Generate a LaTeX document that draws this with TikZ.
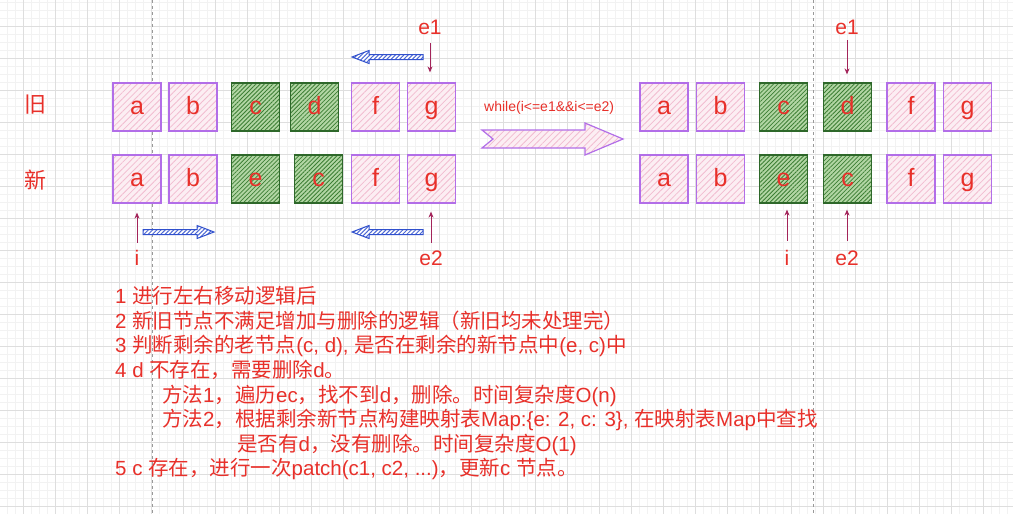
\documentclass[tikz,border=0pt]{standalone}
\usepackage{fontspec}
\setmainfont{Liberation Sans}
\newfontfamily\cjk{Noto Sans CJK SC}
\usetikzlibrary{arrows.meta,patterns.meta}
\newcommand\zh[1]{{\cjk #1}}

\definecolor{txtred}{RGB}{232,48,42}
\definecolor{boxpurple}{RGB}{178,110,232}
\definecolor{hatchpink}{RGB}{242,188,208}
\definecolor{fillpink}{RGB}{252,238,243}
\definecolor{boxgreen}{RGB}{46,104,42}
\definecolor{hatchgreen}{RGB}{60,126,52}
\definecolor{fillgreen}{RGB}{178,214,164}
\definecolor{ptrred}{RGB}{163,36,90}
\definecolor{arrblue}{RGB}{48,80,205}

\tikzset{
  pinkbox/.style={draw=boxpurple, line width=1.2pt, minimum size=48pt, inner sep=0pt,
    preaction={fill=fillpink}, pattern={Lines[angle=45,distance=4.5pt,line width=0.8pt]},
    pattern color=hatchpink, text=txtred, font=\fontsize{25}{30}\selectfont,
    text height=18pt, text depth=4pt},
  greenbox/.style={pinkbox, draw=boxgreen, preaction={fill=fillgreen},
    pattern={Lines[angle=45,distance=3pt,line width=0.8pt]}, pattern color=hatchgreen},
  ptrlabel/.style={inner sep=0pt, text=txtred, font=\fontsize{21}{24}\selectfont},
  ptr/.style={draw=ptrred, line width=1pt, -{Stealth[length=6pt,width=5pt]}},
  rowlabel/.style={inner sep=0pt, text=txtred, font=\fontsize{22}{24}\cjk},
  note/.style={anchor=base west, inner sep=0pt, text=txtred, font=\fontsize{20.5}{24}\selectfont},
  mvarrow/.pic={
    \draw[arrblue, line width=1pt, preaction={fill=white},
      pattern={Lines[angle=45,distance=3pt,line width=1pt]}, pattern color=arrblue!85]
      (0,-2.5) -- (54,-2.5) -- (54,-6.5) -- (71,0) -- (54,6.5) -- (54,2.5) -- (0,2.5) -- cycle;
  }
}

\begin{document}
\begin{tikzpicture}[x=1pt,y=-1pt]
    \useasboundingbox (0,0) rectangle (1013,514);
    \fill[white] (0,0) rectangle (1013,514);

    % grid
    \foreach \x in {7,15,...,1013} \draw[black!5, line width=0.6pt] (\x,0) -- (\x,514);
    \foreach \y in {2,10,...,514} \draw[black!5, line width=0.6pt] (0,\y) -- (1013,\y);
    \foreach \x in {23,55,...,1013} \draw[black!13, line width=0.8pt] (\x,0) -- (\x,514);
    \foreach \y in {26,58,...,514} \draw[black!13, line width=0.8pt] (0,\y) -- (1013,\y);
    \draw[black!40, dashed, line width=0.8pt] (152,0) -- (152,514);
    \draw[black!40, dashed, line width=0.8pt] (813.5,0) -- (813.5,514);

    \node[rowlabel] (lold) at (35,105) {旧};
    \node[rowlabel] (lnew) at (35,180) {新};

    % before
    \node[pinkbox] (oa) at (137,107) {a};
    \node[pinkbox] (ob) at (193,107) {b};
    \node[greenbox] (oc) at (255.5,107) {c};
    \node[greenbox] (od) at (314.5,107) {d};
    \node[pinkbox] (of) at (375.5,107) {f};
    \node[pinkbox] (og) at (431.5,107) {g};

    \node[pinkbox] (na) at (137,179) {a};
    \node[pinkbox] (nb) at (193,179) {b};
    \node[greenbox] (ne) at (255.5,179) {e};
    \node[greenbox] (nc) at (318.5,179) {c};
    \node[pinkbox] (nf) at (375.5,179) {f};
    \node[pinkbox] (ng) at (431.5,179) {g};

    \node[ptrlabel] (le1) at (430,27) {e1};
    \node[ptrlabel] (li) at (137,258) {i};
    \node[ptrlabel] (le2) at (431,258) {e2};
    \draw[ptr, shorten <=8.5pt, shorten >=10pt] (le1) -- (le1 |- og.north);
    \draw[ptr, shorten <=7.5pt, shorten >=9pt] (li) -- (li |- na.south);
    \draw[ptr, shorten <=7.5pt, shorten >=8pt] (le2) -- (le2 |- ng.south);

    \pic[xscale=-1] at (423,57) {mvarrow};
    \pic at (143,232) {mvarrow};
    \pic[xscale=-1] at (423,232) {mvarrow};

    % while
    \node[anchor=west, inner sep=0pt, text=txtred, font=\fontsize{14}{16}\selectfont] (cond) at (484,108) {while(i<=e1\&\&i<=e2)};
    \draw[boxpurple, line width=1.2pt, preaction={fill=fillpink},
      pattern={Lines[angle=45,distance=4.5pt,line width=0.8pt]}, pattern color=hatchpink]
      (482,130) -- (585,130) -- (585,123) -- (623,139) -- (585,155) -- (585,148) -- (482,148) -- (493,139) -- cycle;

    % after
    \node[pinkbox] (roa) at (664,107) {a};
    \node[pinkbox] (rob) at (720.5,107) {b};
    \node[greenbox] (roc) at (783.5,107) {c};
    \node[greenbox] (rod) at (847.5,107) {d};
    \node[pinkbox] (rof) at (911,107) {f};
    \node[pinkbox] (rog) at (967.5,107) {g};

    \node[pinkbox] (rna) at (664,179) {a};
    \node[pinkbox] (rnb) at (720.5,179) {b};
    \node[greenbox] (rne) at (783.5,179) {e};
    \node[greenbox] (rnc) at (847.5,179) {c};
    \node[pinkbox] (rnf) at (911,179) {f};
    \node[pinkbox] (rng) at (967.5,179) {g};

    \node[ptrlabel] (re1) at (847,27) {e1};
    \node[ptrlabel] (ri) at (787,258) {i};
    \node[ptrlabel] (re2) at (847,258) {e2};
    \draw[ptr, shorten <=5.5pt, shorten >=8pt] (re1) -- (re1 |- rod.north);
    \draw[ptr, shorten <=9.5pt, shorten >=6pt] (ri) -- (ri |- rne.south);
    \draw[ptr, shorten <=9.5pt, shorten >=6pt] (re2) -- (re2 |- rnc.south);

    % notes
    \node[note] (t1) at (115,303.6) {1 \zh{进行左右移动逻辑后}};
    \node[note] (t2) at (115,328.2) {2 \zh{新旧节点不满足增加与删除的逻辑（新旧均未处理完）}};
    \node[note] (t3) at (115,352.8) {3 \zh{判断剩余的老节点}(c, d), \zh{是否在剩余的新节点中}(e, c)\zh{中}};
    \node[note] (t4) at (115,377.4) {4 d \zh{不存在，需要删除}d\zh{。}};
    \node[note] (t5) at (162,402) {\zh{方法}1\zh{，遍历}ec\zh{，找不到}d\zh{，删除。时间复杂度}O(n)};
    \node[note] (t6) at (162,426.6) {\zh{方法}2\zh{，根据剩余新节点构建映射表}Map:\{e: 2, c: 3\}, \zh{在映射表}Map\zh{中查找}};
    \node[note] (t7) at (237,451.2) {\zh{是否有}d\zh{，没有删除。时间复杂度}O(1)};
    \node[note] (t8) at (115,475.8) {5 c \zh{存在，进行一次}patch(c1, c2, ...)\zh{，更新}c \zh{节点。}};
\end{tikzpicture}
\end{document}
